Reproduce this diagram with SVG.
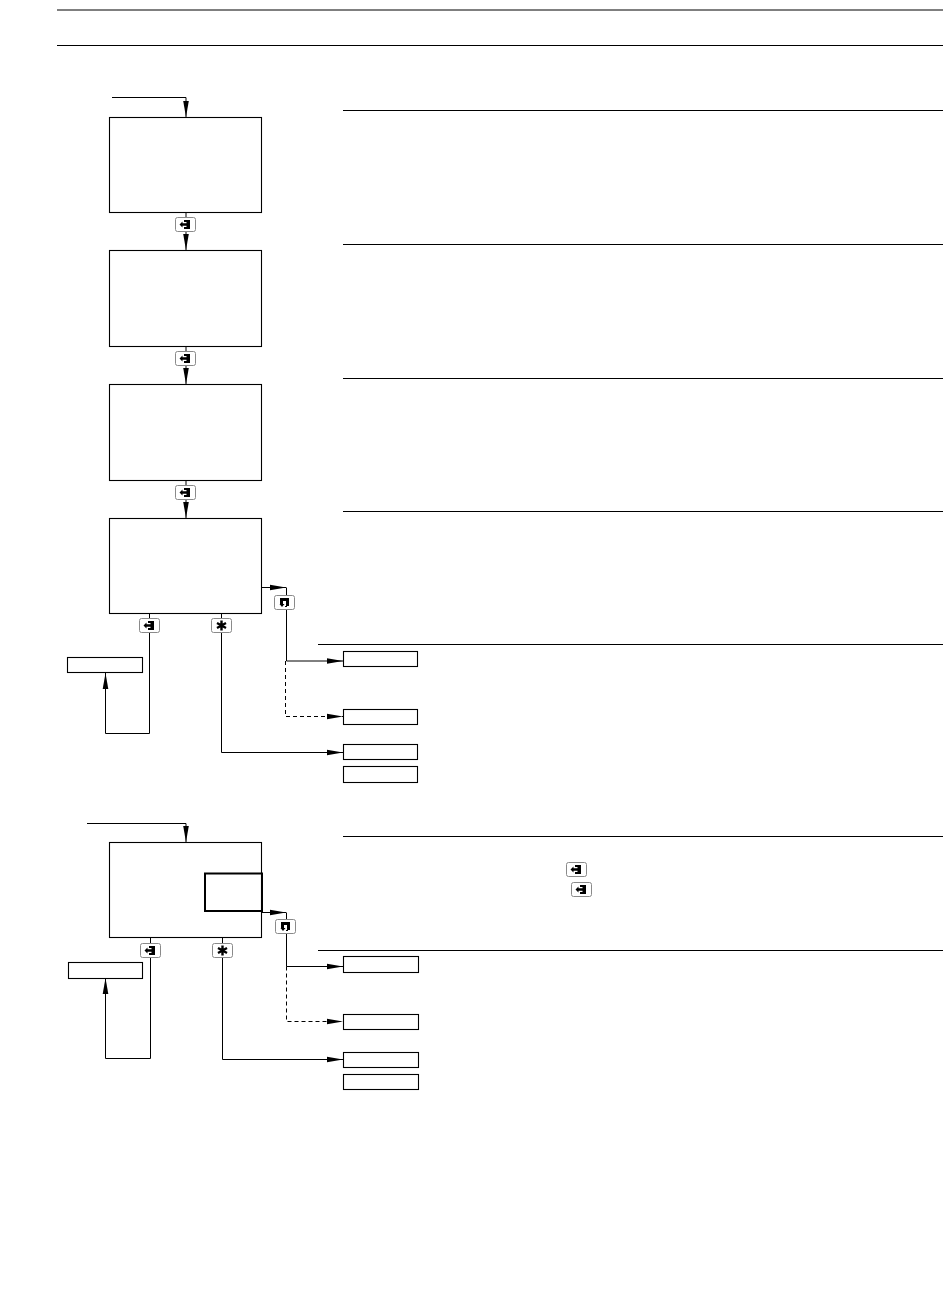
<svg xmlns="http://www.w3.org/2000/svg" width="950" height="1291" viewBox="0 0 950 1291">
<style>
.n{fill:#fff;stroke:#000;stroke-width:1.1}
.r{fill:none;stroke:#000;stroke-width:1}
.c{fill:none;stroke:#000;stroke-width:1}
.d{stroke-dasharray:4 3}
.k{fill:#fff;stroke:#8a8a8a;stroke-width:1}
.g{fill:#000;stroke:none}
</style>
<defs>
<marker id="a" markerUnits="userSpaceOnUse" markerWidth="16" markerHeight="8" refX="16" refY="4" orient="auto"><path d="M0 1.2L16 4L0 6.8Z" fill="#000"/></marker>
<symbol id="enter" viewBox="0 0 21 15" width="21" height="15" overflow="visible"><rect class="k" x=".5" y=".5" width="20" height="14" rx="2"/><path class="g" d="M9 3H15V12H9V10H11.500V8.800H7.500V10.500L4.500 7.500L7.500 4.500V6.200H11.500V5H9Z"/></symbol>
<symbol id="star" viewBox="0 0 21 15" width="21" height="15" overflow="visible"><rect class="k" x=".5" y=".5" width="20" height="14" rx="2"/><path d="M10.500 2.500V12.500M6 5L15 10M15 5L6 10" stroke="#000" stroke-width="2.400" fill="none"/></symbol>
<symbol id="ret" viewBox="0 0 21 15" width="21" height="15" overflow="visible"><rect class="k" x=".5" y=".5" width="20" height="14" rx="2"/><path class="g" d="M6 3H15V11H13V12H11V11H12V6H9V9H10.500L8 12L5.500 9H6Z"/></symbol>
</defs>
<g id="rules">
<path class="r" d="M57 10H943M57 45.500H943M343 110.500H943M343 244.500H943M343 378.500H943M343 511.500H943M318 644.500H943M343 836.500H943M318 950.500H943"/>
</g>
<g id="connectors">
<path class="c" d="M112 97.500H186V117" marker-end="url(#a)"/>
<path class="c" d="M186 212.500V250" marker-end="url(#a)"/>
<path class="c" d="M186 346.500V384" marker-end="url(#a)"/>
<path class="c" d="M186 480.500V518" marker-end="url(#a)"/>
<path class="c" d="M262 587.500H286" marker-end="url(#a)"/>
<path class="c" d="M286.500 587.500V661H343" marker-end="url(#a)"/>
<path class="c d" d="M285.500 661V716.500H343" marker-end="url(#a)"/>
<path class="c" d="M149.500 613.500V733.500H105.500V673" marker-end="url(#a)"/>
<path class="c" d="M221.500 613.500V752.500H343" marker-end="url(#a)"/>
<path class="c" d="M87 823.500H186V842" marker-end="url(#a)"/>
<path class="c" d="M262 912.500H286" marker-end="url(#a)"/>
<path class="c" d="M286.500 912.500V966.500H343" marker-end="url(#a)"/>
<path class="c d" d="M286.500 966.500V1021.500H343" marker-end="url(#a)"/>
<path class="c" d="M150.500 937.500V1058.500H105.500V978" marker-end="url(#a)"/>
<path class="c" d="M222.500 937.500V1059.500H343" marker-end="url(#a)"/>
</g>
<g id="box1"><rect class="n" x="109.500" y="117.500" width="152" height="95"/></g>
<g id="box2"><rect class="n" x="109.500" y="250.500" width="152" height="96"/></g>
<g id="box3"><rect class="n" x="109.500" y="384.500" width="152" height="96"/></g>
<g id="box4"><rect class="n" x="109.500" y="518.500" width="152" height="95"/></g>
<g id="box4-left"><rect class="n" x="67.500" y="657.500" width="75" height="15"/></g>
<g id="box4-r1"><rect class="n" x="343.500" y="651.500" width="74" height="15"/></g>
<g id="box4-r2"><rect class="n" x="343.500" y="709.500" width="74" height="15"/></g>
<g id="box4-r3"><rect class="n" x="343.500" y="744.500" width="74" height="15"/></g>
<g id="box4-r4"><rect class="n" x="343.500" y="766.500" width="74" height="16"/></g>
<g id="box5"><rect class="n" x="109.500" y="842.500" width="152" height="95"/></g>
<g id="box5-inner"><rect x="205" y="873.500" width="57" height="37.500" fill="none" stroke="#000" stroke-width="2"/></g>
<g id="box5-left"><rect class="n" x="68.500" y="962.500" width="74" height="16"/></g>
<g id="box5-r1"><rect class="n" x="343.500" y="956.500" width="75" height="16"/></g>
<g id="box5-r2"><rect class="n" x="343.500" y="1014.500" width="75" height="15"/></g>
<g id="box5-r3"><rect class="n" x="343.500" y="1052.500" width="75" height="15"/></g>
<g id="box5-r4"><rect class="n" x="343.500" y="1074.500" width="75" height="15"/></g>
<g id="keys">
<use href="#enter" x="175" y="217"/>
<use href="#enter" x="175" y="351"/>
<use href="#enter" x="175" y="485"/>
<use href="#enter" x="139" y="618"/>
<use href="#star" x="211" y="618"/>
<use href="#ret" x="274" y="595"/>
<use href="#enter" x="140" y="943"/>
<use href="#star" x="212" y="943"/>
<use href="#ret" x="275" y="919"/>
<use href="#enter" x="566" y="862"/>
<use href="#enter" x="571" y="882"/>
</g>
</svg>
